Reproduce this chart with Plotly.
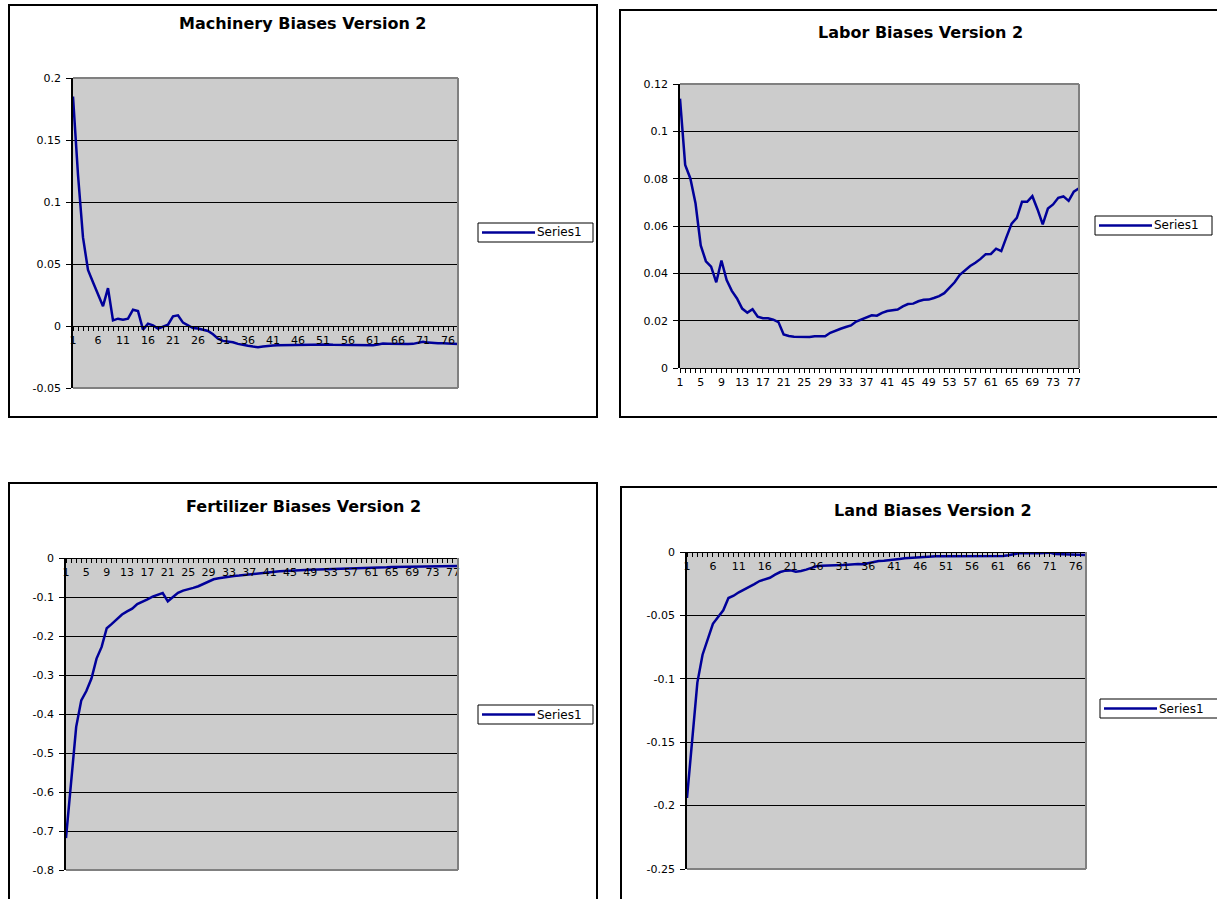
import plotly.graph_objects as go

W, H = 1217, 899

periods = list(range(1, 79))

machinery = [0.185, 0.122, 0.0714, 0.0452, 0.0353, 0.0259, 0.0160, 0.0305, 0.0045, 0.0059,
             0.0051, 0.0059, 0.0131, 0.0120, -0.0029, 0.0019, 0.0005, -0.0021, -0.0008, 0.0011,
             0.0078, 0.0086, 0.0027, 0.0005, -0.0016, -0.0021, -0.0032, -0.0040, -0.0067, -0.0102,
             -0.0120, -0.0126, -0.0131, -0.0144, -0.0155, -0.0160, -0.0166, -0.0171, -0.0166, -0.0160,
             -0.0158, -0.0156, -0.0155, -0.0154, -0.0152, -0.0150, -0.0150, -0.0149, -0.0149, -0.0148,
             -0.0147, -0.0150, -0.0152, -0.0152, -0.0153, -0.0155, -0.0154, -0.0156, -0.0155, -0.0157,
             -0.0155, -0.0150, -0.0142, -0.0143, -0.0145, -0.0147, -0.0147, -0.0146, -0.0144, -0.0136,
             -0.0128, -0.0134, -0.0139, -0.0139, -0.0140, -0.0143, -0.0144, -0.0145]

labor = [0.1138, 0.0858, 0.0801, 0.0695, 0.0518, 0.0451, 0.0428, 0.0362, 0.0454, 0.0372,
         0.0326, 0.0294, 0.0251, 0.0234, 0.0248, 0.0217, 0.0210, 0.0210, 0.0204, 0.0194,
         0.0142, 0.0135, 0.0132, 0.0131, 0.0133, 0.0131, 0.0134, 0.0133, 0.0134, 0.0149,
         0.0159, 0.0166, 0.0173, 0.0180, 0.0196, 0.0204, 0.0213, 0.0223, 0.0221, 0.0233,
         0.0241, 0.0245, 0.0247, 0.0260, 0.0270, 0.0272, 0.0282, 0.0288, 0.0289, 0.0296,
         0.0304, 0.0316, 0.0338, 0.0362, 0.0394, 0.0414, 0.0431, 0.0445, 0.0461, 0.0481,
         0.0482, 0.0504, 0.0494, 0.0553, 0.0610, 0.0634, 0.0702, 0.0702, 0.0726, 0.0670,
         0.0607, 0.0674, 0.0691, 0.0719, 0.0725, 0.0706, 0.0745, 0.0759]

fertilizer = [-0.718, -0.578, -0.433, -0.365, -0.341, -0.309, -0.258, -0.228, -0.180, -0.169,
              -0.156, -0.145, -0.137, -0.130, -0.118, -0.113, -0.106, -0.099, -0.095, -0.090,
              -0.111, -0.1005, -0.0894, -0.0835, -0.081, -0.0767, -0.0724, -0.0664, -0.0596, -0.0545,
              -0.052, -0.0494, -0.0477, -0.046, -0.045, -0.0434, -0.0417, -0.040, -0.039, -0.0375,
              -0.0366, -0.035, -0.034, -0.033, -0.0324, -0.0315, -0.031, -0.0305, -0.030, -0.0297,
              -0.0293, -0.029, -0.0285, -0.028, -0.0273, -0.027, -0.0268, -0.0266, -0.0265, -0.0264,
              -0.026, -0.0256, -0.0248, -0.024, -0.023, -0.0227, -0.0224, -0.0222, -0.022, -0.0213,
              -0.021, -0.0209, -0.0208, -0.0207, -0.0206, -0.0205, -0.0204, -0.0204]

land = [-0.194, -0.148, -0.103, -0.081, -0.068, -0.0566, -0.0513, -0.046, -0.0363, -0.0345,
        -0.0318, -0.0297, -0.0279, -0.0253, -0.0229, -0.0218, -0.0203, -0.0179, -0.0158, -0.0147,
        -0.0145, -0.0155, -0.0150, -0.0139, -0.0124, -0.0113, -0.0108, -0.0108, -0.0107, -0.0105,
        -0.0103, -0.0100, -0.0097, -0.0095, -0.0097, -0.0087, -0.0076, -0.0071, -0.0069, -0.0066,
        -0.0060, -0.0055, -0.0050, -0.0047, -0.0045, -0.0039, -0.0037, -0.0037, -0.0034, -0.0034,
        -0.0034, -0.0035, -0.0034, -0.0034, -0.0034, -0.0032, -0.0032, -0.0033, -0.0032, -0.0032,
        -0.0033, -0.0032, -0.0026, -0.0016, -0.0010, -0.0008, -0.0010, -0.0013, -0.0010, -0.0008,
        -0.0005, -0.0016, -0.0018, -0.0018, -0.0019, -0.0021, -0.0022, -0.0024]

titles = ["Machinery Biases Version 2", "Labor Biases Version 2",
          "Fertilizer Biases Version 2", "Land Biases Version 2"]
series_name = "Series1"

machinery_yticks = [-0.05, 0, 0.05, 0.1, 0.15, 0.2]
labor_yticks = [0, 0.02, 0.04, 0.06, 0.08, 0.1, 0.12]
fertilizer_yticks = [-0.8, -0.7, -0.6, -0.5, -0.4, -0.3, -0.2, -0.1, 0]
land_yticks = [-0.25, -0.2, -0.15, -0.1, -0.05, 0]

machinery_xlabels = periods[::5]
labor_xlabels = periods[::4]
fertilizer_xlabels = periods[::4]
land_xlabels = periods[::5]

# ---- layout geometry (pixels of the 1217x899 picture) ----
def px(x):
    return x / W

def py(y):
    return 1 - y / H

panels = [
    dict(data=machinery, yt=machinery_yticks, xl=machinery_xlabels, plot=(73, 458, 78, 388),
         frame=(9, 597, 5, 417), title_xy=(303, 24), legend_box=(478, 593, 223, 242)),
    dict(data=labor, yt=labor_yticks, xl=labor_xlabels, plot=(680, 1079, 84, 368),
         frame=(620, 1230, 10, 417), title_xy=(920, 33), legend_box=(1095, 1212, 216, 235)),
    dict(data=fertilizer, yt=fertilizer_yticks, xl=fertilizer_xlabels, plot=(66, 458, 558, 870),
         frame=(9, 597, 483, 910), title_xy=(303, 506), legend_box=(478, 593, 705, 724)),
    dict(data=land, yt=land_yticks, xl=land_xlabels, plot=(687, 1086, 552, 869),
         frame=(621, 1230, 487, 910), title_xy=(933, 511), legend_box=(1100, 1230, 699, 718)),
]

LINE_COLOR = "#000099"
GRAY_BG = "#CCCCCC"
BORDER_GRAY = "#808080"
FONT = "DejaVu Sans"
TICK_SIZE = 11

fig = go.Figure()
shapes = []
annotations = []
layout = dict(
    autosize=True,
    margin=dict(l=0, r=0, t=0, b=0, autoexpand=False),
    paper_bgcolor="white",
    plot_bgcolor=GRAY_BG,
    showlegend=False,
    font=dict(family=FONT, size=TICK_SIZE, color="black"),
)

for k, p in enumerate(panels, start=1):
    sfx = "" if k == 1 else str(k)
    xa, ya = "x" + sfx, "y" + sfx
    x0, x1, y0, y1 = p["plot"]
    ymin, ymax = min(p["yt"]), max(p["yt"])
    ydom = [py(y1), py(y0)]
    zero_pos = ydom[0] + (0 - ymin) / (ymax - ymin) * (ydom[1] - ydom[0])

    fig.add_trace(go.Scatter(
        x=periods, y=p["data"], mode="lines", name=series_name,
        line=dict(color=LINE_COLOR, width=2.5),
        xaxis=xa, yaxis=ya, showlegend=False,
    ))

    layout["xaxis" + sfx] = dict(
        domain=[px(x0), px(x1)], range=[1, len(periods)], type="linear",
        anchor="free", position=zero_pos, side="bottom",
        showline=True, linecolor="black", linewidth=1,
        showgrid=False, zeroline=False,
        tickmode="array", tickvals=p["xl"], ticktext=[str(v) for v in p["xl"]],
        ticks="outside", ticklen=4, tickcolor="black", tickwidth=1,
        minor=dict(tick0=1, dtick=1, ticks="outside", ticklen=4, tickcolor="black",
                   tickwidth=1, showgrid=False),
        tickfont=dict(family=FONT, size=TICK_SIZE, color="black"),
        fixedrange=True,
    )
    layout["yaxis" + sfx] = dict(
        domain=ydom, range=[ymin, ymax], anchor=xa,
        showline=True, linecolor="black", linewidth=1.5,
        showgrid=True, gridcolor="black", gridwidth=1, zeroline=False,
        tickmode="array", tickvals=p["yt"], ticktext=[f"{v:g}" for v in p["yt"]],
        ticks="outside", ticklen=5, tickcolor="black", ticklabelstandoff=3,
        tickfont=dict(family=FONT, size=TICK_SIZE, color="black"),
        fixedrange=True,
    )

    # chart frame
    fx0, fx1, fy0, fy1 = p["frame"]
    shapes.append(dict(type="rect", xref="paper", yref="paper",
                       x0=px(fx0), x1=px(fx1), y0=py(fy1), y1=py(fy0),
                       line=dict(color="black", width=2), layer="below"))
    # gray plot-area border on sides that are not axes
    dx, dy = xa + " domain", ya + " domain"
    shapes.append(dict(type="line", xref=dx, yref=dy, x0=1, x1=1, y0=0, y1=1,
                       line=dict(color=BORDER_GRAY, width=2), layer="above"))
    if ymax > 0:
        shapes.append(dict(type="line", xref=dx, yref=dy, x0=0, x1=1, y0=1, y1=1,
                           line=dict(color=BORDER_GRAY, width=2), layer="above"))
    if ymin < 0:
        shapes.append(dict(type="line", xref=dx, yref=dy, x0=0, x1=1, y0=0, y1=0,
                           line=dict(color=BORDER_GRAY, width=2), layer="above"))

    # legend box (Excel style)
    bx0, bx1, by0, by1 = p["legend_box"]
    byc = (by0 + by1) / 2
    shapes.append(dict(type="rect", xref="paper", yref="paper",
                       x0=px(bx0), x1=px(bx1), y0=py(by1), y1=py(by0),
                       line=dict(color="black", width=1), fillcolor="white", layer="above"))
    shapes.append(dict(type="line", xref="paper", yref="paper",
                       x0=px(bx0 + 4), x1=px(bx0 + 57), y0=py(byc), y1=py(byc),
                       line=dict(color=LINE_COLOR, width=2.5), layer="above"))
    annotations.append(dict(text=series_name, xref="paper", yref="paper",
                            x=px(bx0 + 57), y=py(byc), xanchor="left", yanchor="middle",
                            showarrow=False, font=dict(family=FONT, size=12, color="black")))

    tx, ty = p["title_xy"]
    annotations.append(dict(text="<b>" + titles[k - 1] + "</b>", xref="paper", yref="paper",
                            x=px(tx), y=py(ty), xanchor="center", yanchor="middle",
                            showarrow=False, font=dict(family=FONT, size=16, color="black")))

layout["shapes"] = shapes
layout["annotations"] = annotations
fig.update_layout(**layout)

post = (
    "document.documentElement.style.margin='0';"
    "document.documentElement.style.overflow='hidden';"
    "document.body.style.margin='0';"
    "document.body.style.overflow='hidden';"
    "var gd=document.getElementById('{plot_id}');"
    "gd.style.position='fixed';gd.style.left='0px';gd.style.top='0px';"
    "gd.style.width='100vw';gd.style.height='100vh';"
    "Plotly.Plots.resize(gd);"
)

fig.write_html("out.html", config={"displayModeBar": False, "responsive": True},
               default_width="100vw", default_height="100vh", post_script=post)
